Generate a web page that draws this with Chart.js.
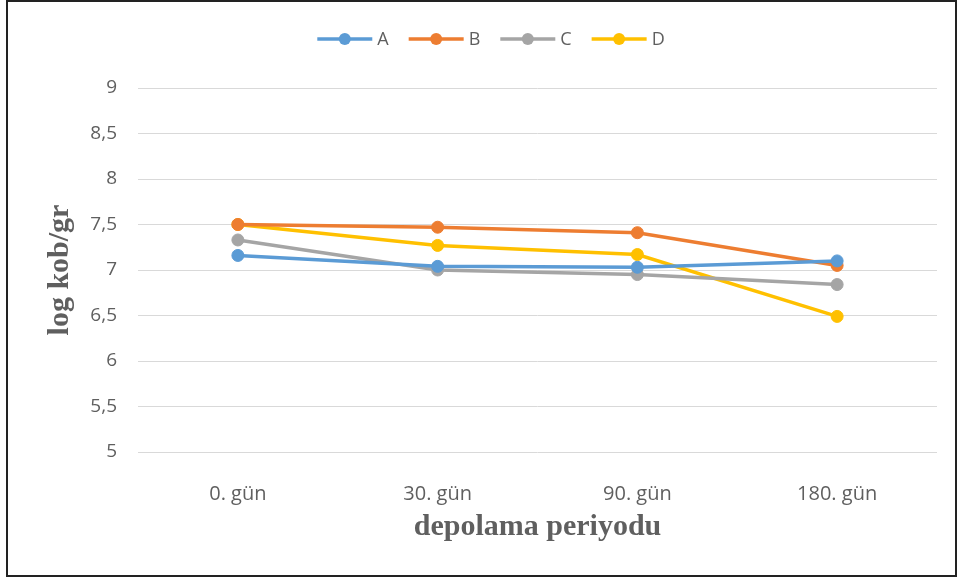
<!DOCTYPE html>
<html>
<head>
<meta charset="utf-8">
<script src="https://cdn.jsdelivr.net/npm/chart.js@4/dist/chart.umd.min.js"></script>
<style>
  html, body { margin: 0; padding: 0; background: #ffffff; }
  #wrap { position: relative; width: 958px; height: 581px; }
  canvas { display: block; }
</style>
</head>
<body>
<div id="wrap"><canvas id="chart" width="958" height="581"></canvas></div>
<script>
// Storage periods (x categories)
const categories = ['0. gün', '30. gün', '90. gün', '180. gün'];

// Series names
const seriesNames = ['A', 'B', 'C', 'D'];

// log kob/gr values per series
const seriesA = [7.16, 7.04, 7.03, 7.10];
const seriesB = [7.50, 7.47, 7.41, 7.05];
const seriesC = [7.33, 7.00, 6.95, 6.84];
const seriesD = [7.50, 7.27, 7.17, 6.49];

// Y axis range and step
const yMin = 5;
const yMax = 9;
const yStep = 0.5;

const colors = ['#5B9BD5', '#ED7D31', '#A5A5A5', '#FFC000'];
const allSeries = [seriesA, seriesB, seriesC, seriesD];

const datasets = allSeries.map((values, i) => ({
  label: seriesNames[i],
  data: values,
  borderColor: colors[i],
  backgroundColor: colors[i],
  borderWidth: 3.5,
  pointRadius: 6,
  pointHoverRadius: 6,
  pointBorderWidth: 1,
  pointBorderColor: colors[i],
  pointBackgroundColor: colors[i],
  tension: 0,
  fill: false
}));

const textGray = '#5f5f5f';
const xTickFont = { family: '"Open Sans", sans-serif', size: 20 };
const yTickFont = { family: '"Open Sans", sans-serif', size: 19 };
const titleFont = { family: '"Liberation Serif", "Times New Roman", serif', size: 30, weight: 'bold' };

// Outer frame plus a line-and-marker legend above the plot
const decorations = {
  id: 'decorations',
  afterDraw(chart) {
    const ctx = chart.ctx;
    ctx.save();
    ctx.strokeStyle = '#222222';
    ctx.lineWidth = 2;
    ctx.strokeRect(7, 1, 949, 575);

    ctx.font = '18px "Open Sans", sans-serif';
    const lineLen = 55, gap = 5, spacing = 20, y = 39;
    const items = chart.data.datasets.map(ds => ({
      label: ds.label, color: ds.borderColor, w: ctx.measureText(ds.label).width
    }));
    const total = items.reduce((s, it) => s + lineLen + gap + it.w, 0) + spacing * (items.length - 1);
    let x = 491 - total / 2;
    items.forEach(it => {
      ctx.strokeStyle = it.color;
      ctx.lineWidth = 3.5;
      ctx.beginPath();
      ctx.moveTo(x, y);
      ctx.lineTo(x + lineLen, y);
      ctx.stroke();
      ctx.fillStyle = it.color;
      ctx.beginPath();
      ctx.arc(x + lineLen / 2, y, 6, 0, Math.PI * 2);
      ctx.fill();
      ctx.fillStyle = textGray;
      ctx.textAlign = 'left';
      ctx.textBaseline = 'middle';
      ctx.fillText(it.label, x + lineLen + gap, y + 1);
      x += lineLen + gap + it.w + spacing;
    });
    ctx.restore();
  }
};

new Chart(document.getElementById('chart'), {
  type: 'line',
  data: { labels: categories, datasets },
  options: {
    responsive: false,
    animation: false,
    layout: { padding: { left: 10, right: 21, top: 88, bottom: 36 } },
    plugins: {
      legend: { display: false },
      tooltip: { enabled: false }
    },
    scales: {
      x: {
        offset: true,
        grid: { display: false },
        border: { display: false },
        ticks: { color: textGray, font: xTickFont, padding: 22, maxRotation: 0 },
        title: {
          display: true,
          text: 'depolama periyodu',
          color: textGray,
          font: titleFont,
          padding: { top: 0, bottom: 0 }
        },
        afterFit(scale) { scale.height = 93; }
      },
      y: {
        min: yMin,
        max: yMax,
        grid: { color: '#d9d9d9', lineWidth: 1, drawTicks: false },
        border: { display: false },
        ticks: {
          stepSize: yStep,
          color: textGray,
          font: yTickFont,
          padding: 21,
          callback: v => String(v).replace('.', ',')
        },
        title: {
          display: true,
          text: 'log kob/gr',
          color: textGray,
          font: titleFont,
          padding: { top: 32, bottom: 0 }
        },
        afterFit(scale) { scale.width = 128; }
      }
    }
  },
  plugins: [decorations]
});
</script>
</body>
</html>
